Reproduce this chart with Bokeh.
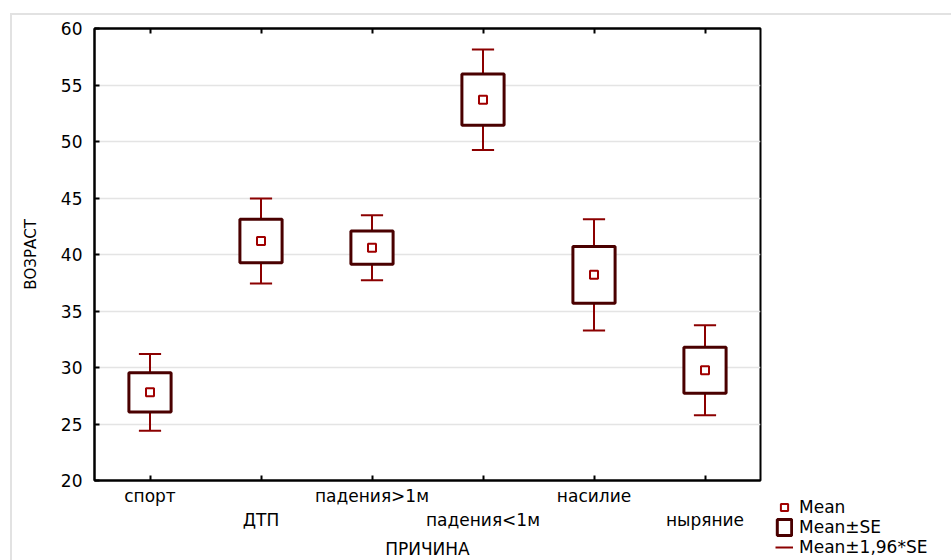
from bokeh.plotting import figure
from bokeh.models import (ColumnDataSource, Range1d, FixedTicker, LinearAxis,
                          Legend, LegendItem)
from bokeh.embed import file_html
from bokeh.resources import INLINE

categories = ["спорт", "ДТП", "падения>1м", "падения<1м", "насилие", "ныряние"]
means = [27.8, 41.2, 40.6, 53.7, 38.2, 29.76]
se = [1.73, 1.92, 1.47, 2.27, 2.51, 2.03]
y_ticks = [20, 25, 30, 35, 40, 45, 50, 55, 60]

FONT = "DejaVu Sans"
WHISK = "#8b0000"
BOX = "#4a0000"
MEAN = "#a00000"

xs = list(range(1, len(categories) + 1))
box_lo = [m - s for m, s in zip(means, se)]
box_hi = [m + s for m, s in zip(means, se)]
w_lo = [m - 1.96 * s for m, s in zip(means, se)]
w_hi = [m + 1.96 * s for m, s in zip(means, se)]
cap = 0.1
src = ColumnDataSource(dict(
    x=xs, mean=means, blo=box_lo, bhi=box_hi, wlo=w_lo, whi=w_hi,
    cl=[x - cap for x in xs], cr=[x + cap for x in xs],
    bmid=[(a + b) / 2 for a, b in zip(box_lo, box_hi)],
    bh=[b - a for a, b in zip(box_lo, box_hi)],
))

p = figure(frame_width=666, frame_height=452, output_backend="svg",
           toolbar_location=None,
           x_range=Range1d(0.5, 6.5), y_range=Range1d(20, 60),
           min_border_left=82, min_border_top=13, min_border_right=191,
           min_border_bottom=80)
p.margin = (13, 0, 0, 10)
p.styles = {"border-left": "2px solid #e2e2e2", "border-top": "2px solid #e2e2e2"}
p.outline_line_color = "black"
p.outline_line_width = 2
p.xgrid.grid_line_color = None
p.ygrid.grid_line_color = "#e4e4e4"
p.ygrid.grid_line_width = 1.5
p.ygrid.ticker = FixedTicker(ticks=y_ticks)

# axes
xa = p.xaxis[0]
xa.ticker = FixedTicker(ticks=xs)
overrides = {}
for i, c in enumerate(categories):
    overrides[xs[i]] = c if i % 2 == 0 else "\n" + c
xa.major_label_overrides = overrides
ya = p.yaxis[0]
ya.ticker = FixedTicker(ticks=y_ticks)
for ax in (xa, ya):
    ax.axis_line_color = "black"
    ax.axis_line_width = 2
    ax.major_tick_in = 5
    ax.major_tick_out = 0
    ax.major_tick_line_color = "black"
    ax.major_tick_line_width = 2
    ax.minor_tick_line_color = None
    ax.major_label_text_font = FONT
    ax.major_label_text_font_size = "17px"
    ax.major_label_text_color = "black"
    ax.axis_label_text_font = FONT
    ax.axis_label_text_font_size = "17px"
    ax.axis_label_text_font_style = "normal"
    ax.axis_label_text_color = "black"
xa.axis_label = "ПРИЧИНА"
ya.axis_label = "ВОЗРАСТ"
ya.axis_label_text_font_size = "15px"
xa.major_label_standoff = 5
ya.major_label_standoff = 12
xa.axis_label_standoff = 6
ya.axis_label_standoff = 18

# frame ticks on top (no labels)
top_ax = LinearAxis(ticker=FixedTicker(ticks=xs))
top_ax.axis_line_color = "black"
top_ax.axis_line_width = 2
top_ax.major_tick_in = 5
top_ax.major_tick_out = 0
top_ax.major_tick_line_width = 2
top_ax.minor_tick_line_color = None
top_ax.major_label_text_color = None
top_ax.major_label_text_font_size = "1px"
top_ax.major_label_standoff = 0
p.add_layout(top_ax, "above")

# whiskers (mean ± 1.96*SE)
stem = p.segment(x0="x", y0="wlo", x1="x", y1="whi", source=src,
                 line_color=WHISK, line_width=2)
p.segment(x0="cl", y0="whi", x1="cr", y1="whi", source=src,
          line_color=WHISK, line_width=2)
p.segment(x0="cl", y0="wlo", x1="cr", y1="wlo", source=src,
          line_color=WHISK, line_width=2)
# boxes (mean ± SE)
box = p.rect(x="x", y="bmid", width=0.38, height="bh", source=src,
             fill_color="white", line_color=BOX, line_width=3)
# means
mean_r = p.scatter(x="x", y="mean", source=src, marker="square", size=8,
                   fill_color="white", line_color=MEAN, line_width=2)

legend = Legend(items=[
    LegendItem(label="Mean", renderers=[mean_r]),
    LegendItem(label="Mean±SE", renderers=[box]),
    LegendItem(label="Mean±1,96*SE", renderers=[stem]),
], location=(15, -77))
legend.border_line_color = None
legend.background_fill_alpha = 0
legend.label_text_font = FONT
legend.label_text_font_size = "17px"
legend.label_text_color = "black"
legend.glyph_width = 18
legend.glyph_height = 20
legend.label_height = 20
legend.spacing = 0
legend.padding = 0
legend.margin = 0
legend.label_standoff = 6
p.add_layout(legend, "right")

open("out.html", "w").write(file_html(p, INLINE))
